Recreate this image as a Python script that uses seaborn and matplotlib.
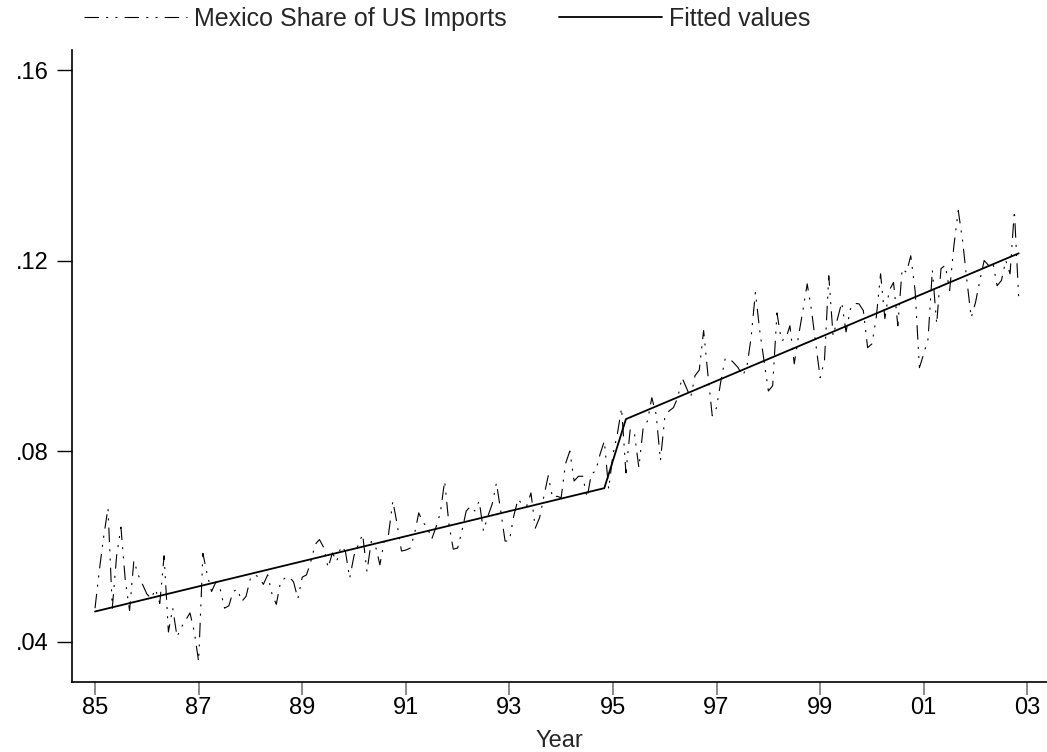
import numpy as np
import pandas as pd
import matplotlib
matplotlib.use("Agg")
import matplotlib.pyplot as plt
import seaborn as sns

# Monthly Mexico share of US imports (Jan 1985 - Nov 2002)
share_85_87 = [.047, .055, .062, .068, .047, .058, .064, .053, .0465, .057, .054, .052,
               .050, .049, .051, .048, .058, .042, .047, .041, .043, .0445, .046, .042,
               .0358, .0585, .054, .0505, .0525, .051, .047, .0475, .0505, .051, .0484, .0495]
share_88_90 = [.0533, .054, .0535, .052, .054, .050, .0478, .0526, .0533, .0536, .0525, .049,
               .0535, .054, .0568, .0604, .0614, .0597, .0555, .0586, .0568, .060, .059, .0533,
               .058, .0604, .0625, .0547, .061, .060, .0561, .061, .0625, .0695, .0646, .059]
share_91_93 = [.0592, .0596, .0625, .067, .065, .064, .0615, .064, .067, .0737, .0646, .0594,
               .0596, .0632, .0674, .0684, .0674, .0695, .0632, .0663, .0688, .0733, .0674, .0611,
               .0611, .0663, .0699, .0688, .0684, .0712, .0638, .066, .0705, .0748, .0702, .0705]
share_94_96 = [.0702, .0773, .080, .0737, .0747, .0747, .0702, .0752, .0758, .0793, .0821, .072,
               .0793, .0835, .089, .0754, .0846, .0835, .0765, .0849, .0863, .0912, .0877, .078,
               .087, .0884, .0891, .0912, .0954, .0933, .0912, .0958, .097, .1053, .096, .0874]
share_97_99 = [.0891, .0947, .0994, .0994, .0985, .0975, .0958, .0975, .1038, .1133, .1053, .099,
               .0926, .0937, .109, .1032, .1035, .1063, .0983, .1042, .1095, .1151, .1095, .1025,
               .0954, .0989, .1168, .1042, .1077, .1112, .105, .1098, .111, .1109, .1095, .1017]
share_00_02 = [.1025, .108, .1172, .1078, .1137, .1154, .1063, .1183, .1175, .121, .1137, .0975,
               .1004, .1035, .118, .1067, .1183, .119, .1137, .1232, .1305, .1242, .1158, .108,
               .1112, .1158, .12, .119, .1196, .1147, .1158, .12, .1172, .1305, .1122]

share = share_85_87 + share_88_90 + share_91_93 + share_94_96 + share_97_99 + share_00_02
months = np.arange(len(share))
years = 1985 + months / 12.0

# Fitted values (piecewise trend with level shift in 1995)
fit_year = [1985.0, 1994.833, 1995.25, 2002.833]
fit_value = [.0463, .0722, .0867, .1215]

xtick_pos = [1985, 1987, 1989, 1991, 1993, 1995, 1997, 1999, 2001, 2003]
xtick_lab = ["85", "87", "89", "91", "93", "95", "97", "99", "01", "03"]
ytick_pos = [.04, .08, .12, .16]
ytick_lab = [".04", ".08", ".12", ".16"]

sns.set_theme(style="ticks")
plt.rcParams["font.family"] = ["Liberation Sans", "DejaVu Sans"]

fig = plt.figure(figsize=(10.47, 7.52), dpi=100)
ax = fig.add_axes([0.0688, 0.0931, 0.9312, 0.8404])

df = pd.DataFrame({"year": years, "share": share})
fdf = pd.DataFrame({"year": fit_year, "fit": fit_value})

sns.lineplot(data=df, x="year", y="share", color="black", linewidth=0.8, ax=ax,
             label="Mexico Share of US Imports")
ax.lines[-1].set_dashes([13, 6.5, 1.8, 6.5, 1.8, 6.5])
sns.lineplot(data=fdf, x="year", y="fit", color="black", linewidth=1.3, ax=ax,
             label="Fitted values")

ax.set_xlim(1984.556, 2003.38)
ax.set_ylim(.0315, .1642)
ax.set_xticks(xtick_pos)
ax.set_xticklabels(xtick_lab)
ax.set_yticks(ytick_pos)
ax.set_yticklabels(ytick_lab)
ax.tick_params(axis="y", direction="out", length=11, width=1, labelsize=17, pad=6, colors="black")
ax.tick_params(axis="x", direction="out", length=9, width=1.2, labelsize=17, pad=2,
               color="#777777", labelcolor="black")
for s in ["top", "right"]:
    ax.spines[s].set_visible(False)
for s in ["left", "bottom"]:
    ax.spines[s].set_linewidth(1.2)
    ax.spines[s].set_color("black")
ax.set_xlabel("Year", fontsize=17, labelpad=8)
ax.set_ylabel("")

handles, labels = ax.get_legend_handles_labels()
ax.get_legend().remove()
fig.legend(handles, labels, loc="center", bbox_to_anchor=(0.4275, 0.975), ncol=2,
           frameon=False, fontsize=18, handlelength=4.1, columnspacing=2.1,
           handletextpad=0.3, borderpad=0, borderaxespad=0)

fig.savefig("out.png", dpi=100)
